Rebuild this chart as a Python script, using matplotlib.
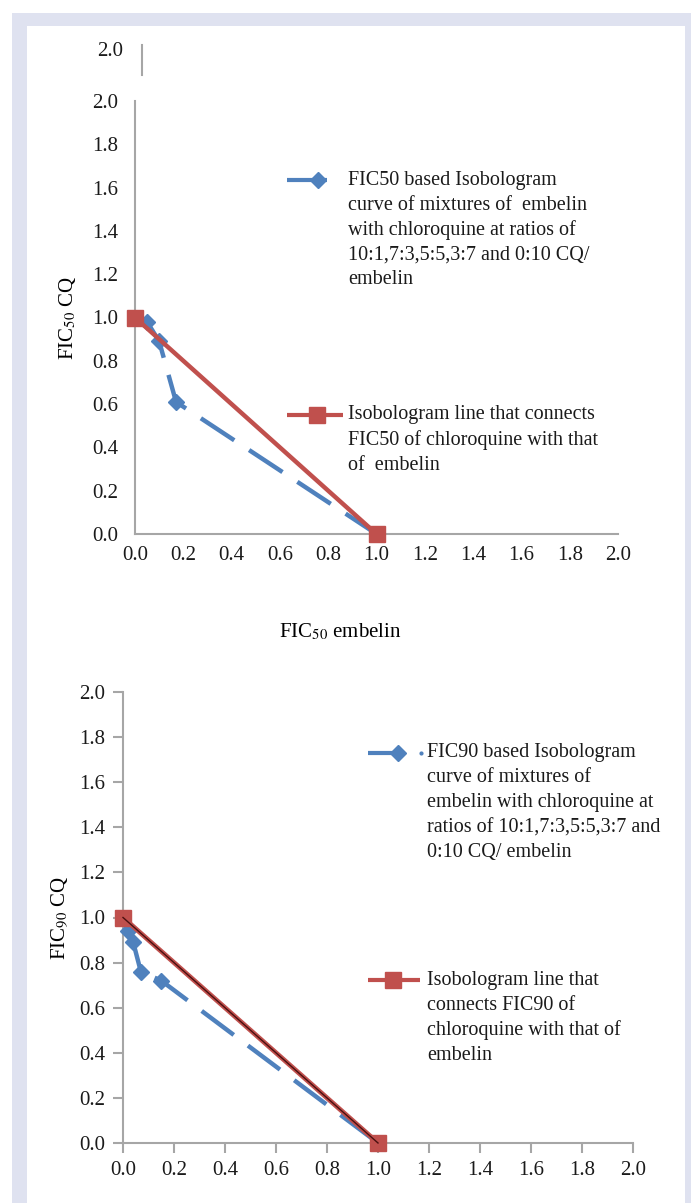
import matplotlib
matplotlib.use("Agg")
import matplotlib.pyplot as plt
from matplotlib.lines import Line2D
from matplotlib.patches import Rectangle

plt.rcParams['font.family'] = ['Liberation Serif', 'DejaVu Serif']
plt.rcParams['mathtext.fontset'] = 'stix'

# ---------------- data ----------------
ticks = [0.0, 0.2, 0.4, 0.6, 0.8, 1.0, 1.2, 1.4, 1.6, 1.8, 2.0]
tick_labels = ["0.0", "0.2", "0.4", "0.6", "0.8", "1.0", "1.2", "1.4", "1.6", "1.8", "2.0"]

fic50_curve_x = [0.05, 0.10, 0.17, 1.0]
fic50_curve_y = [0.98, 0.89, 0.61, 0.0]
fic50_line_x = [0.0, 1.0]
fic50_line_y = [1.0, 0.0]

fic90_curve_x = [0.02, 0.04, 0.07, 0.15, 1.0]
fic90_curve_y = [0.94, 0.89, 0.76, 0.72, 0.0]
fic90_line_x = [0.0, 1.0]
fic90_line_y = [1.0, 0.0]

leg50_curve = ["FIC50 based Isobologram", "curve of mixtures of  embelin",
               "with chloroquine at ratios of", "10:1,7:3,5:5,3:7 and 0:10 CQ/", "embelin"]
leg50_line = ["Isobologram line that connects", "FIC50 of chloroquine with that", "of  embelin"]
leg90_curve = ["FIC90 based Isobologram", "curve of mixtures of", "embelin with chloroquine at",
               "ratios of 10:1,7:3,5:5,3:7 and", "0:10 CQ/ embelin"]
leg90_line = ["Isobologram line that", "connects FIC90 of", "chloroquine with that of", "embelin"]

BLUE = "#4F81BD"
RED = "#C0504D"
GREY = "#A6A6A6"
FRAME = "#DFE2F0"
FS = 15
LFS = 14.5

W, H = 691, 1203
fig = plt.figure(figsize=(W / 100, H / 100), dpi=100)

def fx(px):
    return px / W

def fy(py):
    return 1 - py / H

# frame
fig.patches.append(Rectangle((fx(12), 0), 1 - fx(12), fy(13), transform=fig.transFigure,
                             facecolor=FRAME, edgecolor='none', zorder=-10))
fig.patches.append(Rectangle((fx(27), 0), fx(685) - fx(27), fy(26), transform=fig.transFigure,
                             facecolor='white', edgecolor='none', zorder=-9))

def style_axes(ax, tick_len, xpad, ypad):
    ax.set_xlim(0, 2.0)
    ax.set_ylim(0, 2.0)
    ax.set_xticks(ticks)
    ax.set_xticklabels(tick_labels)
    ax.set_yticks(ticks)
    ax.set_yticklabels(tick_labels)
    for s in ['top', 'right']:
        ax.spines[s].set_visible(False)
    for s in ['left', 'bottom']:
        ax.spines[s].set_color(GREY)
        ax.spines[s].set_linewidth(1.5)
    ax.tick_params(axis='both', colors=GREY, labelcolor='#1a1a1a', labelsize=FS,
                   length=tick_len, width=1.5)
    ax.tick_params(axis='x', pad=xpad)
    ax.tick_params(axis='y', pad=ypad)
    ax.patch.set_alpha(0)

def legend_block(ax, x_h0, x_h1, x_mark, marker, ms, x_text, y_first, lines, color, dot_x=None):
    ax.add_line(Line2D([fx(x_h0), fx(x_h1)], [fy(y_first), fy(y_first)], transform=fig.transFigure,
                       color=color, lw=3, solid_capstyle='butt', clip_on=False))
    ax.add_line(Line2D([fx(x_mark)], [fy(y_first)], transform=fig.transFigure, marker=marker,
                       ms=ms, color=color, mec=color, clip_on=False, linestyle='none'))
    if dot_x is not None:
        ax.add_line(Line2D([fx(dot_x)], [fy(y_first)], transform=fig.transFigure, marker='o',
                           ms=2, color=color, mec=color, clip_on=False, linestyle='none'))
    for i, t in enumerate(lines):
        fig.text(fx(x_text), fy(y_first + 25 * i), t, fontsize=LFS, va='center', ha='left',
                 color='#1a1a1a')

# ---------------- top panel ----------------
ax1 = fig.add_axes([fx(135), fy(534), fx(618) - fx(135), fy(101) - fy(534)])
style_axes(ax1, 0, 9, 12)
ax1.plot(fic50_curve_x, fic50_curve_y, color=BLUE, lw=3.2, dashes=(9, 4), marker='D', ms=8,
         mec=BLUE, clip_on=False, zorder=3)
ax1.plot(fic50_line_x, fic50_line_y, color=RED, lw=3.2, marker='s', ms=11, mec=RED,
         clip_on=False, zorder=4)
ax1.set_ylabel(r"FIC$_{\mathrm{50}}$ CQ", fontsize=FS, labelpad=10)
fig.text(fx(340), fy(632), r"FIC$_{\mathrm{50}}$ embelin", fontsize=FS, ha='center', va='center')
# stray label above top axis
fig.text(fx(123), fy(52), "2.0", fontsize=FS, ha='right', va='center', color='#1a1a1a')
fig.add_artist(Line2D([fx(142), fx(142)], [fy(45), fy(75)], transform=fig.transFigure,
                      color=GREY, lw=1.5))

legend_block(ax1, 287, 327, 318, 'D', 8, 348, 180, leg50_curve, BLUE)
legend_block(ax1, 287, 343, 317, 's', 11, 348, 415, leg50_line, RED)

# ---------------- bottom panel ----------------
ax2 = fig.add_axes([fx(123), fy(1143), fx(633) - fx(123), fy(692) - fy(1143)])
style_axes(ax2, 7, 6, 6)
ax2.plot(fic90_curve_x, fic90_curve_y, color=BLUE, lw=3.2, dashes=(9, 4), marker='D', ms=8,
         mec=BLUE, clip_on=False, zorder=3)
ax2.plot(fic90_line_x, fic90_line_y, color=RED, lw=3.5, marker='s', ms=11, mec=RED,
         clip_on=False, zorder=4)
ax2.plot(fic90_line_x, fic90_line_y, color='#4a1010', lw=1, clip_on=False, zorder=5)
ax2.set_ylabel(r"FIC$_{\mathrm{90}}$ CQ", fontsize=FS, labelpad=6)

legend_block(ax2, 368, 402, 398, 'D', 8, 427, 753, leg90_curve, BLUE, dot_x=421)
legend_block(ax2, 368, 420, 393, 's', 11, 427, 980, leg90_line, RED)

fig.savefig("out.png", dpi=100, facecolor='white')
